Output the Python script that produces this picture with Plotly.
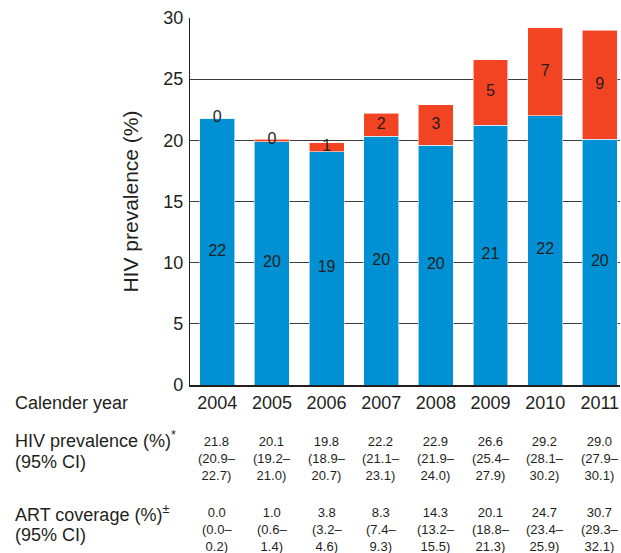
"""
HIV prevalence by calendar year, split into people on / not on ART,
with a small table of prevalence and ART coverage underneath.
"""

import plotly.graph_objects as go

# ──────────────────────────────────────────────────────────────────────────────
#  Data
# ──────────────────────────────────────────────────────────────────────────────

years = ["2004", "2005", "2006", "2007", "2008", "2009", "2010", "2011"]

not_on_art = [21.8, 19.9, 19.05, 20.35, 19.6, 21.25, 22.0, 20.1]
on_art = [0.0, 0.2, 0.75, 1.85, 3.3, 5.35, 7.2, 8.9]

not_on_art_labels = ["22", "20", "19", "20", "20", "21", "22", "20"]
on_art_labels = ["0", "0", "1", "2", "3", "5", "7", "9"]

prevalence = ["21.8", "20.1", "19.8", "22.2", "22.9", "26.6", "29.2", "29.0"]
prevalence_lo = ["20.9", "19.2", "18.9", "21.1", "21.9", "25.4", "28.1", "27.9"]
prevalence_hi = ["22.7", "21.0", "20.7", "23.1", "24.0", "27.9", "30.2", "30.1"]

art_coverage = ["0.0", "1.0", "3.8", "8.3", "14.3", "20.1", "24.7", "30.7"]
art_lo = ["0.0", "0.6", "3.2", "7.4", "13.2", "18.8", "23.4", "29.3"]
art_hi = ["0.2", "1.4", "4.6", "9.3", "15.5", "21.3", "25.9", "32.1"]

y_ticks = [0, 5, 10, 15, 20, 25, 30]

BLUE = "#0090d4"
RED = "#f24423"
FONT = "Arial, Liberation Sans, sans-serif"
TEXT = "#231f20"

# ──────────────────────────────────────────────────────────────────────────────
#  Bars
# ──────────────────────────────────────────────────────────────────────────────

fig = go.Figure()

fig.add_trace(
    go.Bar(
        x=years,
        y=not_on_art,
        marker=dict(color=BLUE, line=dict(color="rgba(255,255,255,0.7)", width=0.8)),
        width=0.64,
        showlegend=False,
    )
)
fig.add_trace(
    go.Bar(
        x=years,
        y=on_art,
        marker=dict(color=RED, line=dict(color="rgba(255,255,255,0.7)", width=0.8)),
        width=0.64,
        showlegend=False,
    )
)

# segment labels, centred in each segment
fig.add_trace(
    go.Scatter(
        x=years,
        y=[v / 2 for v in not_on_art],
        text=not_on_art_labels,
        mode="text",
        textfont=dict(family=FONT, size=16, color=TEXT),
        showlegend=False,
        hoverinfo="skip",
    )
)
fig.add_trace(
    go.Scatter(
        x=years,
        y=[b + r / 2 for b, r in zip(not_on_art, on_art)],
        text=on_art_labels,
        mode="text",
        textfont=dict(family=FONT, size=16, color=TEXT),
        showlegend=False,
        hoverinfo="skip",
    )
)

# ──────────────────────────────────────────────────────────────────────────────
#  Table under the chart
# ──────────────────────────────────────────────────────────────────────────────

def _ypaper(px):
    """Pixel row in the page -> paper coordinate (plot spans rows 18..385)."""
    return (385 - px) / 367


row_labels = [
    ("Calender year", 403),
    ("HIV prevalence (%)<sup>*</sup>", 440),
    ("(95% CI)", 462),
    ("ART coverage (%)<sup>±</sup>", 513),
    ("(95% CI)", 535),
]
for txt, py in row_labels:
    fig.add_annotation(
        text=txt,
        xref="paper",
        yref="paper",
        x=-0.412,
        y=_ypaper(py),
        xanchor="left",
        yanchor="middle",
        showarrow=False,
        font=dict(family=FONT, size=18, color=TEXT),
    )

# category axes take the serial number of the category for annotations
for i, yr in enumerate(years):
    fig.add_annotation(
        text=f"{prevalence[i]}<br>({prevalence_lo[i]}–<br>{prevalence_hi[i]})",
        xref="x",
        yref="paper",
        x=i,
        y=_ypaper(458),
        yanchor="middle",
        showarrow=False,
        font=dict(family=FONT, size=13, color=TEXT),
    )
    fig.add_annotation(
        text=f"{art_coverage[i]}<br>({art_lo[i]}–<br>{art_hi[i]})",
        xref="x",
        yref="paper",
        x=i,
        y=_ypaper(529),
        yanchor="middle",
        showarrow=False,
        font=dict(family=FONT, size=13, color=TEXT),
    )

# ──────────────────────────────────────────────────────────────────────────────
#  Layout
# ──────────────────────────────────────────────────────────────────────────────

fig.update_layout(
    barmode="stack",
    width=621,
    height=553,
    margin=dict(l=190, r=1, t=18, b=168),
    plot_bgcolor="white",
    paper_bgcolor="white",
    font=dict(family=FONT, size=18, color=TEXT),
)
fig.update_xaxes(
    type="category",
    range=[-0.5, 7.37],
    showgrid=False,
    showline=True,
    linecolor="#231f20",
    linewidth=1.5,
    ticks="",
    tickfont=dict(size=18, color=TEXT),
    ticklabelstandoff=1,
)
fig.update_yaxes(
    range=[0, 30],
    tickvals=y_ticks,
    showgrid=True,
    gridcolor="#3c3c3c",
    gridwidth=1.4,
    zeroline=False,
    showline=True,
    linecolor="#231f20",
    linewidth=1.2,
    ticks="",
    tickfont=dict(size=18, color=TEXT),
    ticklabelstandoff=2,
    title=dict(text="HIV prevalence (%)", font=dict(size=21, color=TEXT), standoff=18),
)

# the page's default body margin would push the figure 8px off the window
fig.write_html(
    "out.html",
    config={"displayModeBar": False},
    post_script="document.body.style.margin='0';",
)
